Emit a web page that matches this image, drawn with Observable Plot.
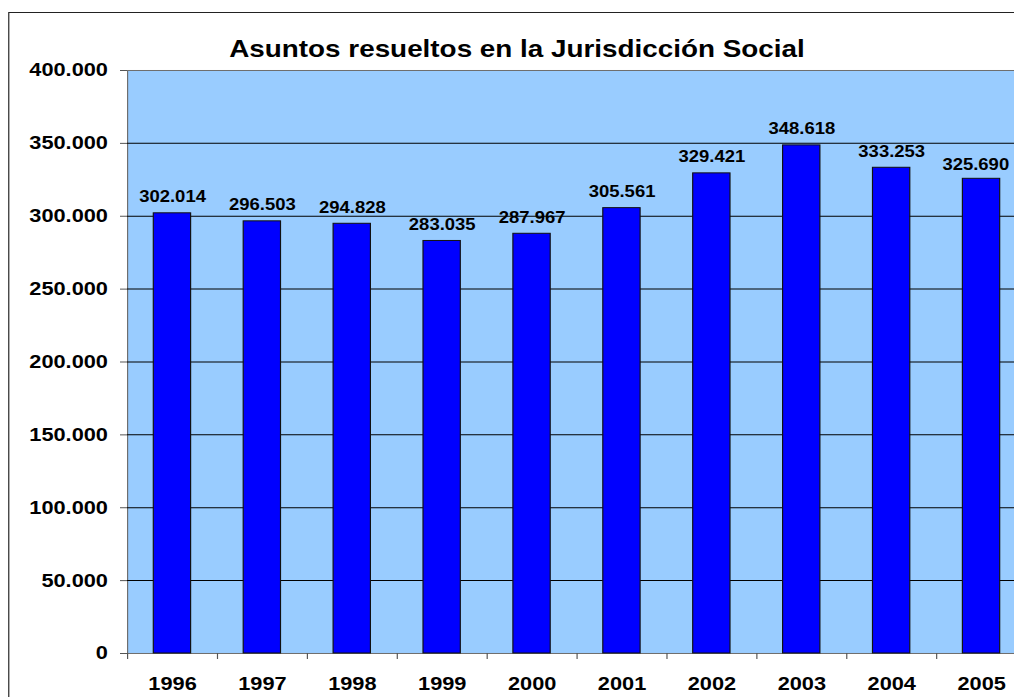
<!DOCTYPE html>
<html>
<head>
<meta charset="utf-8">
<script src="https://cdn.jsdelivr.net/npm/d3@7"></script>
<script src="https://cdn.jsdelivr.net/npm/@observablehq/plot@0.6"></script>
<style>
html, body { margin: 0; padding: 0; overflow: hidden; background: #fff; width: 1014px; height: 697px; }
#wrap { position: absolute; left: 0; top: 0; width: 900px; height: 760px; transform: scaleX(1.17); transform-origin: 0 0; }
#border { position: absolute; left: 6.8px; top: 12px; width: 1000px; height: 800px; border: 1px solid #222; }
#title { position: absolute; left: 141.9px; width: 600px; top: 37px; text-align: center;
  font: bold 23.8px Arial, "Liberation Sans", sans-serif; line-height: 23.8px; color: #000; white-space: nowrap; }
#chart { position: absolute; left: 0; top: 0; width: 890px; }
</style>
</head>
<body>
<div id="wrap">
  <div id="border"></div>
  <div id="chart"></div>
  <div id="title"></div>
</div>
<script>
const titleText = "Asuntos resueltos en la Jurisdicción Social";
const years = ["1996", "1997", "1998", "1999", "2000", "2001", "2002", "2003", "2004", "2005"];
const values = [302014, 296503, 294828, 283035, 287967, 305561, 329421, 348618, 333253, 325690];
const yTicks = [0, 50000, 100000, 150000, 200000, 250000, 300000, 350000, 400000];

const data = years.map((year, i) => ({year, value: values[i]}));
const gridTicks = yTicks.filter(v => v > 0 && v < 400000);
const fmt = d3.formatLocale({decimal: ",", thousands: ".", grouping: [3], currency: ["", "€"]}).format(",d");

document.getElementById("title").textContent = titleText;

const S = 1.17;
const ML = 127 / S;
const frameW = 899 / S;
const MR = 10;
const W = ML + frameW + MR;
const MT = 70;
const H = 720;
const MB = H - 653;
const step = frameW / years.length;
const last = years.length - 1;

const chart = Plot.plot({
  width: W,
  height: H,
  marginLeft: ML,
  marginRight: MR,
  marginTop: MT,
  marginBottom: MB,
  style: {
    fontFamily: "Arial, 'Liberation Sans', sans-serif",
    fontWeight: "bold",
    fontSize: "18.6px",
    color: "#000",
    background: "transparent",
    overflow: "visible",
    maxWidth: "none"
  },
  x: {type: "band", domain: years, paddingInner: 0.585, paddingOuter: 0.2925, round: false, label: null},
  y: {domain: [0, 400000], label: null},
  marks: [
    Plot.frame({fill: "#99CCFF", stroke: "#6e6e6e"}),
    Plot.ruleY(gridTicks, {stroke: "#000", strokeWidth: 1}),
    Plot.barY(data, {x: "year", y: "value", fill: "#0000FF", stroke: "#111", strokeWidth: 1}),
    Plot.ruleX(years, {x: d => d, dx: -step / 2, y1: 0, y2: 0, insetBottom: -6, stroke: "#555"}),
    Plot.axisY({ticks: yTicks, tickFormat: fmt, tickSize: 6, tickPadding: 10.8, stroke: "#555", fill: "#000", fontSize: 18.6}),
    Plot.axisX({tickSize: 0, tickPadding: 23, fill: "#000", fontSize: 18.6}),
    Plot.text(data, {filter: (d, i) => i < last, x: "year", y: "value", text: d => fmt(d.value), dy: -11, lineAnchor: "bottom", fontSize: 15.8, fill: "#000"}),
    Plot.text(data, {filter: (d, i) => i === last, x: "year", y: "value", text: d => fmt(d.value), dx: -5, dy: -9, lineAnchor: "bottom", fontSize: 15.8, fill: "#000"})
  ]
});
document.getElementById("chart").appendChild(chart);
</script>
</body>
</html>
